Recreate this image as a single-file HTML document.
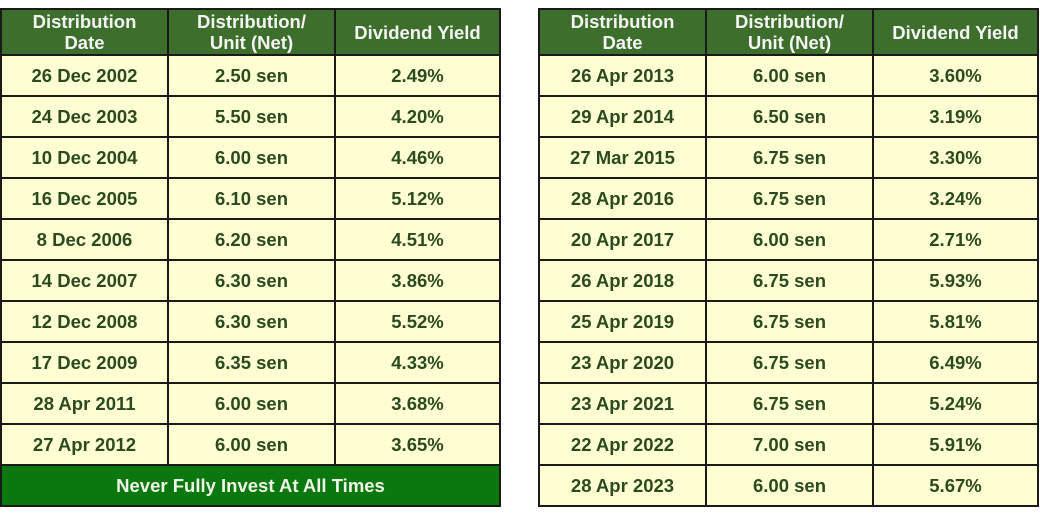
<!DOCTYPE html>
<html><head><meta charset="utf-8"><style>
body{margin:0;width:1040px;height:516px;background:#fff;overflow:hidden;font-family:"Liberation Sans",Arial,sans-serif}
table{position:absolute;top:8px;border-collapse:collapse;table-layout:fixed}
td,th{border:2px solid #1a1a1a;text-align:center;padding:0;font-weight:bold}
th{background:#3d6e2b;color:#f4f4f4;font-size:18.5px;height:44px;line-height:21px}
td{background:#fffed2;color:#2b4a1f;font-size:18.5px;height:39px}
td.f{background:#0b780f;color:#f0f5e8;font-size:18.5px}
</style></head><body>
<table style="left:0;width:499px">
<colgroup><col style="width:167px"><col style="width:167px"><col style="width:165px"></colgroup>
<tr><th>Distribution<br>Date</th><th>Distribution/<br>Unit (Net)</th><th>Dividend Yield</th></tr>
<tr><td>26 Dec 2002</td><td>2.50 sen</td><td>2.49%</td></tr>
<tr><td>24 Dec 2003</td><td>5.50 sen</td><td>4.20%</td></tr>
<tr><td>10 Dec 2004</td><td>6.00 sen</td><td>4.46%</td></tr>
<tr><td>16 Dec 2005</td><td>6.10 sen</td><td>5.12%</td></tr>
<tr><td>8 Dec 2006</td><td>6.20 sen</td><td>4.51%</td></tr>
<tr><td>14 Dec 2007</td><td>6.30 sen</td><td>3.86%</td></tr>
<tr><td>12 Dec 2008</td><td>6.30 sen</td><td>5.52%</td></tr>
<tr><td>17 Dec 2009</td><td>6.35 sen</td><td>4.33%</td></tr>
<tr><td>28 Apr 2011</td><td>6.00 sen</td><td>3.68%</td></tr>
<tr><td>27 Apr 2012</td><td>6.00 sen</td><td>3.65%</td></tr>
<tr><td colspan="3" class="f">Never Fully Invest At All Times</td></tr>
</table>
<table style="left:538px;width:499px">
<colgroup><col style="width:167px"><col style="width:167px"><col style="width:165px"></colgroup>
<tr><th>Distribution<br>Date</th><th>Distribution/<br>Unit (Net)</th><th>Dividend Yield</th></tr>
<tr><td>26 Apr 2013</td><td>6.00 sen</td><td>3.60%</td></tr>
<tr><td>29 Apr 2014</td><td>6.50 sen</td><td>3.19%</td></tr>
<tr><td>27 Mar 2015</td><td>6.75 sen</td><td>3.30%</td></tr>
<tr><td>28 Apr 2016</td><td>6.75 sen</td><td>3.24%</td></tr>
<tr><td>20 Apr 2017</td><td>6.00 sen</td><td>2.71%</td></tr>
<tr><td>26 Apr 2018</td><td>6.75 sen</td><td>5.93%</td></tr>
<tr><td>25 Apr 2019</td><td>6.75 sen</td><td>5.81%</td></tr>
<tr><td>23 Apr 2020</td><td>6.75 sen</td><td>6.49%</td></tr>
<tr><td>23 Apr 2021</td><td>6.75 sen</td><td>5.24%</td></tr>
<tr><td>22 Apr 2022</td><td>7.00 sen</td><td>5.91%</td></tr>
<tr><td>28 Apr 2023</td><td>6.00 sen</td><td>5.67%</td></tr>
</table>
</body></html>
